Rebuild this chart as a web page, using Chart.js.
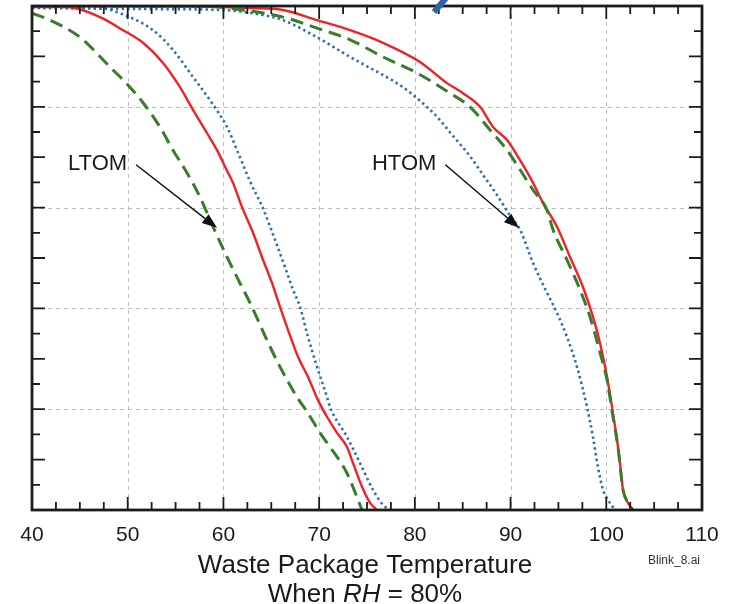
<!DOCTYPE html>
<html>
<head>
<meta charset="utf-8">
<title>Waste Package Temperature</title>
<script src="https://cdn.jsdelivr.net/npm/chart.js@4.4.1/dist/chart.umd.min.js"></script>
<style>
  html, body { margin: 0; padding: 0; background: #fff; }
  #chart { display: block; }
</style>
</head>
<body>
<canvas id="chart" width="733" height="604"></canvas>
<script>
const FONT = '"Liberation Sans", Arial, Helvetica, sans-serif';

const xTicks = [40, 50, 60, 70, 80, 90, 100, 110];

// LTOM curves (temperature, fraction)
const ltomSolidT = [40, 43.66, 47.10, 49.51, 51.60, 53.69, 55.46, 56.82, 58.28, 59.33, 60.17, 61.00, 61.94, 63.09, 64.14, 65.08, 65.91, 66.75, 67.79, 68.84, 69.88, 70.82, 71.87, 72.91, 73.54, 74.48, 75.32, 76.05];
const ltomSolidF = [0.998, 0.998, 0.978, 0.952, 0.927, 0.887, 0.839, 0.794, 0.748, 0.714, 0.681, 0.649, 0.601, 0.550, 0.496, 0.450, 0.403, 0.357, 0.304, 0.264, 0.218, 0.185, 0.153, 0.125, 0.093, 0.046, 0.014, 0];

const ltomDashT = [40, 41.88, 45.02, 48.15, 50.24, 51.60, 53.37, 54.73, 56.19, 57.55, 58.91, 60.37, 61.73, 62.78, 64.55, 65.91, 67.69, 68.84, 70.09, 71.14, 72.91, 74.27, 74.48];
const ltomDashF = [0.986, 0.972, 0.938, 0.879, 0.839, 0.808, 0.760, 0.714, 0.669, 0.621, 0.562, 0.502, 0.450, 0.411, 0.337, 0.284, 0.224, 0.192, 0.153, 0.125, 0.073, 0.010, 0];

const ltomDotT = [40, 47.10, 49.93, 52.64, 54.73, 56.82, 58.60, 60.37, 61.42, 62.78, 64.14, 65.39, 66.43, 67.27, 68.00, 68.84, 69.78, 70.82, 71.14, 72.91, 74.27, 75.63, 76.67, 77.40];
const ltomDotF = [0.998, 0.996, 0.980, 0.952, 0.913, 0.859, 0.813, 0.760, 0.714, 0.652, 0.598, 0.536, 0.482, 0.437, 0.403, 0.343, 0.284, 0.224, 0.204, 0.145, 0.093, 0.040, 0.010, 0];

// HTOM curves
const htomSolidT = [40, 57.55, 62.78, 66.23, 69.78, 73.23, 76.67, 80.54, 83.36, 85.03, 86.81, 88.17, 89.63, 90.99, 92.35, 93.39, 94.85, 96.21, 97.57, 98.61, 99.35, 100.08, 100.60, 101.12, 101.43, 101.75, 102.27, 102.79];
const htomSolidF = [1.0, 0.999, 0.996, 0.992, 0.972, 0.952, 0.927, 0.889, 0.847, 0.827, 0.800, 0.760, 0.734, 0.694, 0.649, 0.609, 0.562, 0.502, 0.442, 0.383, 0.331, 0.264, 0.204, 0.139, 0.093, 0.040, 0.014, 0];

const htomDashT = [40, 57.55, 62.78, 66.23, 69.78, 73.23, 76.67, 80.23, 83.67, 85.76, 87.85, 89.63, 90.99, 92.35, 93.81, 94.44, 95.90, 97.26, 98.30, 99.35, 100.08, 100.70, 101.22, 101.75, 102.27, 102.79];
const htomDashF = [1.0, 1.0, 0.990, 0.978, 0.956, 0.933, 0.899, 0.867, 0.827, 0.800, 0.754, 0.714, 0.675, 0.635, 0.595, 0.556, 0.496, 0.437, 0.383, 0.312, 0.258, 0.185, 0.125, 0.040, 0.014, 0];

const htomDotT = [40, 52.33, 59.96, 64.14, 66.23, 69.78, 73.23, 76.67, 78.45, 80.54, 82.32, 83.99, 85.76, 87.12, 88.58, 89.94, 90.99, 92.35, 93.81, 94.85, 95.90, 96.94, 97.99, 98.61, 99.13, 99.66, 100.18, 100.91];
const htomDotF = [0.996, 0.994, 0.992, 0.982, 0.972, 0.938, 0.899, 0.863, 0.843, 0.812, 0.780, 0.742, 0.702, 0.665, 0.625, 0.584, 0.556, 0.490, 0.431, 0.391, 0.343, 0.284, 0.204, 0.145, 0.085, 0.040, 0.020, 0];

// arrow labels: text, label left edge, arrow tip (data units)
const callouts = [
  { text: 'LTOM', at: [43.76, 0.687], tip: [59.33, 0.560] },
  { text: 'HTOM', at: [75.52, 0.687], tip: [90.88, 0.560] }
];

const RED = '#ec2327';
const GREEN = '#3a7b2c';
const BLUE = '#2e6dad';

const pts = (t, f) => t.map((x, i) => ({ x: x, y: f[i] }));

const solid = (t, f) => ({ data: pts(t, f), borderColor: RED, borderWidth: 2.4 });
const dashed = (t, f) => ({ data: pts(t, f), borderColor: GREEN, borderWidth: 3, borderDash: [13, 7] });
const dotted = (t, f) => ({ data: pts(t, f), borderColor: BLUE, borderWidth: 2.6, borderDash: [2.4, 3.2] });

// arrow from (x1,y1) to tip (x2,y2), pixels
function arrow(ctx, x1, y1, x2, y2) {
  const a = Math.atan2(y2 - y1, x2 - x1);
  const len = 15, half = 5.5;
  const bx = x2 - len * Math.cos(a), by = y2 - len * Math.sin(a);
  ctx.save();
  ctx.strokeStyle = '#111';
  ctx.fillStyle = '#111';
  ctx.lineWidth = 1.5;
  ctx.setLineDash([]);
  ctx.beginPath();
  ctx.moveTo(x1, y1);
  ctx.lineTo(bx, by);
  ctx.stroke();
  ctx.beginPath();
  ctx.moveTo(x2, y2);
  ctx.lineTo(bx + half * Math.sin(a), by - half * Math.cos(a));
  ctx.lineTo(bx - half * Math.sin(a), by + half * Math.cos(a));
  ctx.closePath();
  ctx.fill();
  ctx.restore();
}

const plotDecor = {
  id: 'plotDecor',
  beforeDatasetsDraw(chart) {
    const { ctx, chartArea: a, scales: { x, y } } = chart;
    ctx.save();
    ctx.strokeStyle = '#bdbdbd';
    ctx.lineWidth = 1;
    ctx.setLineDash([4, 4]);
    for (let v = 50; v < 110; v += 10) {
      const px = Math.round(x.getPixelForValue(v)) + 0.5;
      ctx.beginPath(); ctx.moveTo(px, a.top); ctx.lineTo(px, a.bottom); ctx.stroke();
    }
    for (let v = 0.2; v < 0.99; v += 0.2) {
      const py = Math.round(y.getPixelForValue(v)) + 0.5;
      ctx.beginPath(); ctx.moveTo(a.left, py); ctx.lineTo(a.right, py); ctx.stroke();
    }
    ctx.restore();
  },
  afterDatasetsDraw(chart) {
    const { ctx, chartArea: a, scales: { x, y } } = chart;
    ctx.save();
    ctx.setLineDash([]);
    ctx.strokeStyle = '#1c1c1c';

    // inward tick marks on all four sides
    ctx.lineWidth = 1.8;
    for (let i = 1; i < 28; i++) {
      const v = 40 + i * 2.5;
      const px = x.getPixelForValue(v);
      const len = (i % 4 === 0) ? 13 : 8;
      ctx.beginPath();
      ctx.moveTo(px, a.bottom); ctx.lineTo(px, a.bottom - len);
      ctx.moveTo(px, a.top); ctx.lineTo(px, a.top + len);
      ctx.stroke();
    }
    for (let i = 1; i < 20; i++) {
      const py = y.getPixelForValue(i * 0.05);
      const len = (i % 2 === 0) ? 13 : 8;
      ctx.beginPath();
      ctx.moveTo(a.left, py); ctx.lineTo(a.left + len, py);
      ctx.moveTo(a.right, py); ctx.lineTo(a.right - len, py);
      ctx.stroke();
    }

    // frame
    ctx.lineWidth = 2.8;
    ctx.strokeRect(a.left, a.top, a.right - a.left, a.bottom - a.top);

    // callout labels and arrows
    ctx.fillStyle = '#1a1a1a';
    ctx.font = '22px ' + FONT;
    ctx.textBaseline = 'middle';
    ctx.textAlign = 'left';
    callouts.forEach(c => {
      const lx = x.getPixelForValue(c.at[0]);
      const ly = y.getPixelForValue(c.at[1]);
      ctx.fillText(c.text, lx, ly);
      const w = ctx.measureText(c.text).width;
      arrow(ctx, lx + w + 9, ly + 1, x.getPixelForValue(c.tip[0]), y.getPixelForValue(c.tip[1]));
    });
    ctx.restore();
  },
  afterDraw(chart) {
    const { ctx, chartArea: a } = chart;
    const cx = (a.left + a.right) / 2 - 2;
    ctx.save();
    ctx.fillStyle = '#1a1a1a';
    ctx.textBaseline = 'alphabetic';
    ctx.textAlign = 'center';
    ctx.font = '26px ' + FONT;
    ctx.fillText('Waste Package Temperature', cx, 573);

    // second title line with italic RH
    const parts = [['When ', ''], ['RH', 'italic '], [' = 80%', '']];
    const widths = parts.map(p => { ctx.font = p[1] + '26px ' + FONT; return ctx.measureText(p[0]).width; });
    let px = cx - widths.reduce((s, w) => s + w, 0) / 2;
    ctx.textAlign = 'left';
    parts.forEach((p, i) => {
      ctx.font = p[1] + '26px ' + FONT;
      ctx.fillText(p[0], px, 602);
      px += widths[i];
    });

    ctx.font = '12px ' + FONT;
    ctx.fillStyle = '#333';
    ctx.textAlign = 'right';
    ctx.fillText('Blink_8.ai', 700, 564);

    // blue slash peeking over the top edge
    ctx.strokeStyle = '#2f63a8';
    ctx.lineWidth = 6;
    ctx.beginPath();
    ctx.moveTo(446, -2);
    ctx.lineTo(434, 12);
    ctx.stroke();
    ctx.restore();
  }
};

new Chart(document.getElementById('chart'), {
  type: 'line',
  data: {
    datasets: [
      dashed(ltomDashT, ltomDashF),
      solid(ltomSolidT, ltomSolidF),
      dotted(ltomDotT, ltomDotF),
      dashed(htomDashT, htomDashF),
      solid(htomSolidT, htomSolidF),
      dotted(htomDotT, htomDotF)
    ]
  },
  options: {
    responsive: false,
    animation: false,
    layout: { padding: { top: 6, right: 31, left: 0, bottom: 0 } },
    elements: {
      point: { radius: 0, hoverRadius: 0 },
      line: { cubicInterpolationMode: 'monotone', fill: false }
    },
    plugins: { legend: { display: false }, tooltip: { enabled: false } },
    scales: {
      x: {
        type: 'linear',
        min: 40,
        max: 110,
        afterBuildTicks: s => { s.ticks = xTicks.map(v => ({ value: v })); },
        afterFit: s => { s.height = 94; },
        grid: { display: false, drawTicks: false },
        border: { display: false },
        ticks: { padding: 13, color: '#1a1a1a', font: { family: FONT, size: 21 } }
      },
      y: {
        type: 'linear',
        min: 0,
        max: 1,
        afterFit: s => { s.width = 32; },
        grid: { display: false, drawTicks: false },
        border: { display: false },
        ticks: { display: false }
      }
    }
  },
  plugins: [plotDecor]
});
</script>
</body>
</html>
